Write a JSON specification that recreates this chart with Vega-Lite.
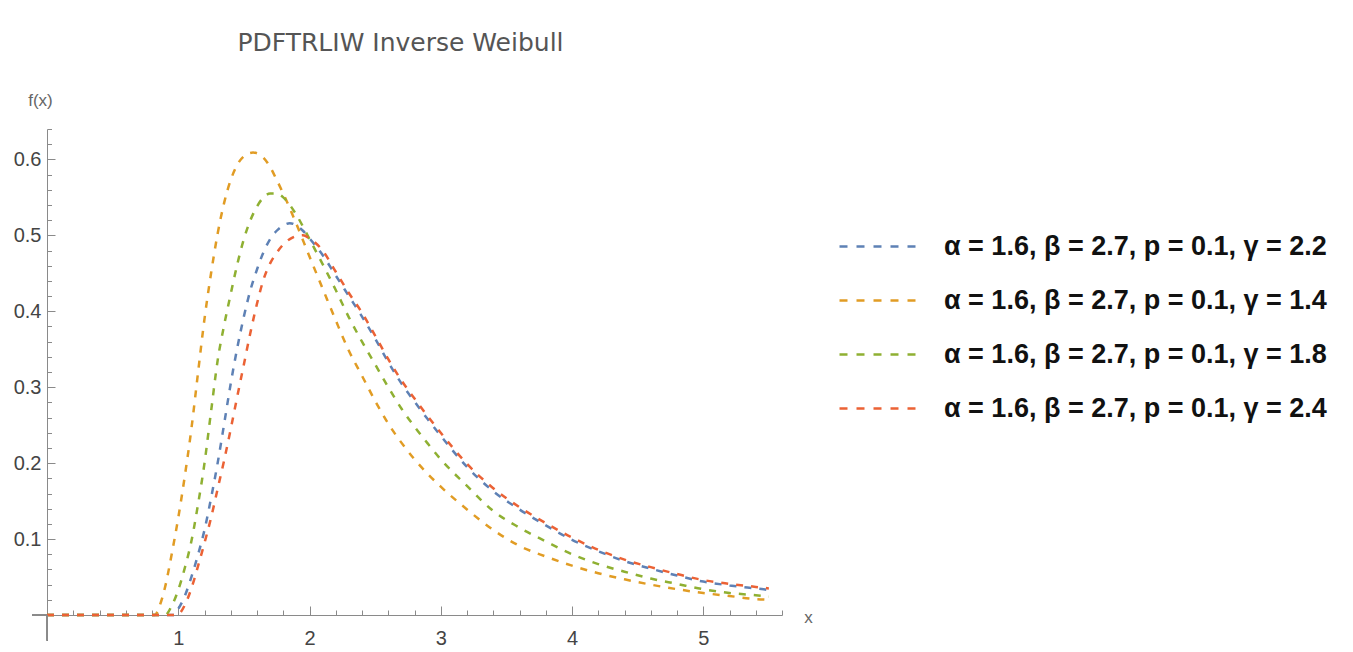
{
  "$schema": "https://vega.github.io/schema/vega-lite/v6.json",
  "autosize": "none",
  "width": 735,
  "height": 486,
  "padding": {"left": 47, "top": 129, "right": 571, "bottom": 37},
  "background": "white",
  "config": {"view": {"stroke": null}, "font": "Liberation Sans", "axis": {"labelOverlap": false, "labelBound": false, "labelFlush": false, "grid": false}},
  "title": {"text": "PDFTRLIW Inverse Weibull", "fontSize": 25, "fontWeight": "normal", "color": "#555555", "font": "DejaVu Sans", "anchor": "middle", "dx": -14, "offset": 35},
  "data": {"values": [
    {"x":0,"y":0,"g":"2.2"},{"x":0.97,"y":0,"g":"2.2"},{"x":1.0,"y":0.008,"g":"2.2"},{"x":1.05,"y":0.025,"g":"2.2"},{"x":1.1,"y":0.05,"g":"2.2"},{"x":1.15,"y":0.079,"g":"2.2"},{"x":1.2,"y":0.112,"g":"2.2"},{"x":1.25,"y":0.154,"g":"2.2"},{"x":1.3,"y":0.2,"g":"2.2"},{"x":1.35,"y":0.252,"g":"2.2"},{"x":1.4,"y":0.305,"g":"2.2"},{"x":1.45,"y":0.352,"g":"2.2"},{"x":1.5,"y":0.393,"g":"2.2"},{"x":1.55,"y":0.428,"g":"2.2"},{"x":1.6,"y":0.455,"g":"2.2"},{"x":1.65,"y":0.478,"g":"2.2"},{"x":1.7,"y":0.495,"g":"2.2"},{"x":1.75,"y":0.506,"g":"2.2"},{"x":1.8,"y":0.513,"g":"2.2"},{"x":1.85,"y":0.516,"g":"2.2"},{"x":1.9,"y":0.513,"g":"2.2"},{"x":1.95,"y":0.506,"g":"2.2"},{"x":2.0,"y":0.496,"g":"2.2"},{"x":2.1,"y":0.474,"g":"2.2"},{"x":2.2,"y":0.447,"g":"2.2"},{"x":2.3,"y":0.42,"g":"2.2"},{"x":2.4,"y":0.393,"g":"2.2"},{"x":2.5,"y":0.364,"g":"2.2"},{"x":2.6,"y":0.333,"g":"2.2"},{"x":2.7,"y":0.305,"g":"2.2"},{"x":2.8,"y":0.281,"g":"2.2"},{"x":2.9,"y":0.258,"g":"2.2"},{"x":3.0,"y":0.236,"g":"2.2"},{"x":3.2,"y":0.195,"g":"2.2"},{"x":3.4,"y":0.163,"g":"2.2"},{"x":3.6,"y":0.139,"g":"2.2"},{"x":3.8,"y":0.118,"g":"2.2"},{"x":4.0,"y":0.099,"g":"2.2"},{"x":4.2,"y":0.084,"g":"2.2"},{"x":4.4,"y":0.071,"g":"2.2"},{"x":4.6,"y":0.061,"g":"2.2"},{"x":4.8,"y":0.052,"g":"2.2"},{"x":5.0,"y":0.044,"g":"2.2"},{"x":5.2,"y":0.039,"g":"2.2"},{"x":5.4,"y":0.035,"g":"2.2"},{"x":5.5,"y":0.033,"g":"2.2"},

    {"x":0,"y":0,"g":"1.4"},{"x":0.82,"y":0,"g":"1.4"},{"x":0.86,"y":0.013,"g":"1.4"},{"x":0.9,"y":0.037,"g":"1.4"},{"x":0.95,"y":0.08,"g":"1.4"},{"x":1.0,"y":0.128,"g":"1.4"},{"x":1.05,"y":0.183,"g":"1.4"},{"x":1.1,"y":0.245,"g":"1.4"},{"x":1.15,"y":0.318,"g":"1.4"},{"x":1.2,"y":0.39,"g":"1.4"},{"x":1.25,"y":0.45,"g":"1.4"},{"x":1.3,"y":0.502,"g":"1.4"},{"x":1.35,"y":0.543,"g":"1.4"},{"x":1.4,"y":0.573,"g":"1.4"},{"x":1.45,"y":0.593,"g":"1.4"},{"x":1.5,"y":0.604,"g":"1.4"},{"x":1.57,"y":0.609,"g":"1.4"},{"x":1.65,"y":0.602,"g":"1.4"},{"x":1.7,"y":0.59,"g":"1.4"},{"x":1.75,"y":0.573,"g":"1.4"},{"x":1.8,"y":0.555,"g":"1.4"},{"x":1.9,"y":0.515,"g":"1.4"},{"x":2.0,"y":0.472,"g":"1.4"},{"x":2.1,"y":0.43,"g":"1.4"},{"x":2.2,"y":0.388,"g":"1.4"},{"x":2.3,"y":0.348,"g":"1.4"},{"x":2.4,"y":0.315,"g":"1.4"},{"x":2.5,"y":0.282,"g":"1.4"},{"x":2.6,"y":0.252,"g":"1.4"},{"x":2.7,"y":0.227,"g":"1.4"},{"x":2.8,"y":0.205,"g":"1.4"},{"x":2.9,"y":0.186,"g":"1.4"},{"x":3.0,"y":0.169,"g":"1.4"},{"x":3.2,"y":0.139,"g":"1.4"},{"x":3.4,"y":0.112,"g":"1.4"},{"x":3.6,"y":0.091,"g":"1.4"},{"x":3.8,"y":0.077,"g":"1.4"},{"x":4.0,"y":0.065,"g":"1.4"},{"x":4.2,"y":0.055,"g":"1.4"},{"x":4.4,"y":0.047,"g":"1.4"},{"x":4.6,"y":0.04,"g":"1.4"},{"x":4.8,"y":0.034,"g":"1.4"},{"x":5.0,"y":0.029,"g":"1.4"},{"x":5.2,"y":0.025,"g":"1.4"},{"x":5.4,"y":0.021,"g":"1.4"},{"x":5.5,"y":0.02,"g":"1.4"},

    {"x":0,"y":0,"g":"1.8"},{"x":0.9,"y":0,"g":"1.8"},{"x":0.95,"y":0.012,"g":"1.8"},{"x":1.0,"y":0.033,"g":"1.8"},{"x":1.05,"y":0.062,"g":"1.8"},{"x":1.1,"y":0.097,"g":"1.8"},{"x":1.15,"y":0.145,"g":"1.8"},{"x":1.2,"y":0.2,"g":"1.8"},{"x":1.25,"y":0.268,"g":"1.8"},{"x":1.3,"y":0.335,"g":"1.8"},{"x":1.35,"y":0.382,"g":"1.8"},{"x":1.4,"y":0.423,"g":"1.8"},{"x":1.45,"y":0.462,"g":"1.8"},{"x":1.5,"y":0.495,"g":"1.8"},{"x":1.55,"y":0.52,"g":"1.8"},{"x":1.6,"y":0.538,"g":"1.8"},{"x":1.65,"y":0.55,"g":"1.8"},{"x":1.7,"y":0.555,"g":"1.8"},{"x":1.75,"y":0.555,"g":"1.8"},{"x":1.8,"y":0.55,"g":"1.8"},{"x":1.85,"y":0.54,"g":"1.8"},{"x":1.9,"y":0.527,"g":"1.8"},{"x":2.0,"y":0.495,"g":"1.8"},{"x":2.1,"y":0.462,"g":"1.8"},{"x":2.2,"y":0.428,"g":"1.8"},{"x":2.3,"y":0.392,"g":"1.8"},{"x":2.4,"y":0.36,"g":"1.8"},{"x":2.5,"y":0.33,"g":"1.8"},{"x":2.6,"y":0.3,"g":"1.8"},{"x":2.7,"y":0.272,"g":"1.8"},{"x":2.8,"y":0.248,"g":"1.8"},{"x":2.9,"y":0.226,"g":"1.8"},{"x":3.0,"y":0.205,"g":"1.8"},{"x":3.2,"y":0.17,"g":"1.8"},{"x":3.4,"y":0.137,"g":"1.8"},{"x":3.6,"y":0.115,"g":"1.8"},{"x":3.8,"y":0.097,"g":"1.8"},{"x":4.0,"y":0.08,"g":"1.8"},{"x":4.2,"y":0.067,"g":"1.8"},{"x":4.4,"y":0.057,"g":"1.8"},{"x":4.6,"y":0.048,"g":"1.8"},{"x":4.8,"y":0.041,"g":"1.8"},{"x":5.0,"y":0.034,"g":"1.8"},{"x":5.2,"y":0.029,"g":"1.8"},{"x":5.4,"y":0.026,"g":"1.8"},{"x":5.5,"y":0.024,"g":"1.8"},

    {"x":0,"y":0,"g":"2.4"},{"x":0.99,"y":0,"g":"2.4"},{"x":1.05,"y":0.013,"g":"2.4"},{"x":1.1,"y":0.035,"g":"2.4"},{"x":1.15,"y":0.064,"g":"2.4"},{"x":1.2,"y":0.095,"g":"2.4"},{"x":1.25,"y":0.128,"g":"2.4"},{"x":1.3,"y":0.166,"g":"2.4"},{"x":1.35,"y":0.204,"g":"2.4"},{"x":1.4,"y":0.245,"g":"2.4"},{"x":1.45,"y":0.288,"g":"2.4"},{"x":1.5,"y":0.33,"g":"2.4"},{"x":1.55,"y":0.372,"g":"2.4"},{"x":1.6,"y":0.41,"g":"2.4"},{"x":1.65,"y":0.442,"g":"2.4"},{"x":1.7,"y":0.463,"g":"2.4"},{"x":1.75,"y":0.477,"g":"2.4"},{"x":1.8,"y":0.488,"g":"2.4"},{"x":1.85,"y":0.495,"g":"2.4"},{"x":1.9,"y":0.499,"g":"2.4"},{"x":1.95,"y":0.5,"g":"2.4"},{"x":2.0,"y":0.496,"g":"2.4"},{"x":2.1,"y":0.48,"g":"2.4"},{"x":2.2,"y":0.452,"g":"2.4"},{"x":2.3,"y":0.424,"g":"2.4"},{"x":2.4,"y":0.398,"g":"2.4"},{"x":2.5,"y":0.368,"g":"2.4"},{"x":2.6,"y":0.337,"g":"2.4"},{"x":2.7,"y":0.309,"g":"2.4"},{"x":2.8,"y":0.285,"g":"2.4"},{"x":2.9,"y":0.262,"g":"2.4"},{"x":3.0,"y":0.24,"g":"2.4"},{"x":3.2,"y":0.199,"g":"2.4"},{"x":3.4,"y":0.167,"g":"2.4"},{"x":3.6,"y":0.142,"g":"2.4"},{"x":3.8,"y":0.121,"g":"2.4"},{"x":4.0,"y":0.102,"g":"2.4"},{"x":4.2,"y":0.086,"g":"2.4"},{"x":4.4,"y":0.073,"g":"2.4"},{"x":4.6,"y":0.063,"g":"2.4"},{"x":4.8,"y":0.054,"g":"2.4"},{"x":5.0,"y":0.046,"g":"2.4"},{"x":5.2,"y":0.041,"g":"2.4"},{"x":5.4,"y":0.037,"g":"2.4"},{"x":5.5,"y":0.035,"g":"2.4"}
  ]},
  "layer": [
    {
      "mark": {"type": "line", "strokeWidth": 2.5, "strokeDash": [7, 8], "interpolate": "monotone", "clip": false},
      "encoding": {
        "x": {
          "field": "x", "type": "quantitative",
          "scale": {"domain": [0, 5.6], "nice": false, "zero": false},
          "axis": {
            "values": [0.2,0.4,0.6,0.8,1,1.2,1.4,1.6,1.8,2,2.2,2.4,2.6,2.8,3,3.2,3.4,3.6,3.8,4,4.2,4.4,4.6,4.8,5,5.2,5.4,5.6],
            "tickCount": 200,
            "labelExpr": "abs(datum.value - round(datum.value)) < 0.001 ? format(datum.value, 'd') : ''",
            "tickSize": {"condition": {"test": "abs(datum.value - round(datum.value)) < 0.001", "value": -9}, "value": -5},
            "labelPadding": 22,
            "labelFontSize": 20,
            "labelColor": "#444444",
            "labelOverlap": false,
            "domainColor": "#8a8a8a",
            "tickColor": "#8a8a8a",
            "title": "x",
            "titleFontSize": 17,
            "titleFontWeight": "normal",
            "titleColor": "#666666",
            "titleAngle": 0,
            "titleAlign": "center",
            "titleBaseline": "middle",
            "titleX": 761,
            "titleY": 2
          }
        },
        "y": {
          "field": "y", "type": "quantitative",
          "scale": {"domain": [0, 0.64], "nice": false},
          "axis": {
            "values": [0.02,0.04,0.06,0.08,0.1,0.12,0.14,0.16,0.18,0.2,0.22,0.24,0.26,0.28,0.3,0.32,0.34,0.36,0.38,0.4,0.42,0.44,0.46,0.48,0.5,0.52,0.54,0.56,0.58,0.6,0.62,0.64],
            "tickCount": 200,
            "labelExpr": "abs(datum.value*10 - round(datum.value*10)) < 0.001 ? format(datum.value, '.1f') : ''",
            "tickSize": {"condition": {"test": "abs(datum.value*10 - round(datum.value*10)) < 0.001", "value": -8}, "value": -4.5},
            "labelPadding": 14,
            "labelFontSize": 20,
            "labelColor": "#444444",
            "labelOverlap": false,
            "domainColor": "#8a8a8a",
            "tickColor": "#8a8a8a",
            "title": "f(x)",
            "titleFontSize": 17,
            "titleFontWeight": "normal",
            "titleColor": "#666666",
            "titleAngle": 0,
            "titleAlign": "center",
            "titleBaseline": "middle",
            "titleX": -7,
            "titleY": -29
          }
        },
        "color": {
          "field": "g", "type": "nominal",
          "scale": {"domain": ["2.2", "1.4", "1.8", "2.4"], "range": ["#5E81B5", "#E19C24", "#8FB032", "#EB6235"]},
          "legend": {
            "orient": "none",
            "legendX": 804,
            "legendY": 90,
            "title": null,
            "symbolType": "M-1.5,0H1.5",
            "symbolSize": 2704,
            "symbolStrokeWidth": 2.5,
            "symbolDash": [8, 9],
            "symbolFillColor": "transparent",
            "labelOffset": 38,
            "labelFontSize": 27,
            "labelFontWeight": "bold",
            "labelColor": "#111111",
            "labelFont": "Liberation Sans",
            "labelLimit": 600,
            "rowPadding": 13,
            "labelExpr": "'α = 1.6, β = 2.7, p = 0.1, γ = ' + datum.label"
          }
        }
      }
    },
    {
      "mark": {"type": "rule", "color": "#8a8a8a", "strokeWidth": 1},
      "encoding": {
        "x": {"datum": -0.11, "type": "quantitative"},
        "x2": {"datum": 0},
        "y": {"datum": 0, "type": "quantitative"}
      }
    },
    {
      "mark": {"type": "rule", "color": "#8a8a8a", "strokeWidth": 1},
      "encoding": {
        "x": {"datum": 0, "type": "quantitative"},
        "y": {"datum": -0.033, "type": "quantitative"},
        "y2": {"datum": 0}
      }
    }
  ]
}
